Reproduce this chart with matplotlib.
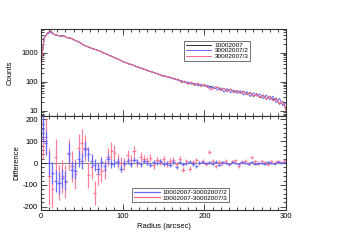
import numpy as np
import matplotlib
matplotlib.use("Agg")
import matplotlib.pyplot as plt
from matplotlib.ticker import MultipleLocator, LogLocator, NullFormatter, FuncFormatter
from matplotlib.lines import Line2D

# ---- Data ----
radius_prof = np.arange(0, 301, 4)
counts_10002007 = [370, 3200, 4700, 5600, 4300, 3900, 3750, 3850, 3250, 3150,
                   2850, 2450, 2250, 1820, 1680, 1480, 1370, 1230, 1160, 990,
                   910, 790, 730, 630, 580, 495, 455, 405, 385, 335,
                   315, 280, 265, 230, 220, 195, 185, 160, 158, 142,
                   138, 118, 122, 96, 104, 86, 95, 76, 86, 70,
                   80, 64, 70, 58, 66, 52, 60, 47, 56, 43,
                   50, 41, 47, 36, 43, 31, 39, 28, 35, 25,
                   32, 24, 27, 17, 21, 11]
counts_30002007_2 = [400, 3400, 4400, 5000, 4150, 4050, 3650, 3750, 3350, 3250,
                     2750, 2550, 2150, 1880, 1620, 1520, 1330, 1270, 1130, 1020,
                     890, 810, 710, 650, 560, 505, 445, 415, 375, 345,
                     305, 290, 255, 240, 210, 205, 175, 170, 150, 150,
                     128, 132, 108, 112, 92, 99, 82, 90, 72, 82,
                     70, 76, 60, 68, 52, 62, 44, 58, 42, 52,
                     40, 50, 35, 46, 31, 42, 32, 38, 26, 35,
                     24, 32, 19, 27, 15, 19]
counts_30002007_3 = [360, 3100, 4600, 5400, 4250, 3950, 3700, 3800, 3300, 3200,
                     2800, 2480, 2230, 1830, 1660, 1490, 1360, 1240, 1140, 1010,
                     900, 795, 725, 635, 575, 500, 450, 408, 378, 342,
                     312, 283, 262, 233, 217, 198, 182, 163, 156, 146,
                     140, 120, 118, 100, 104, 82, 98, 78, 90, 70,
                     78, 66, 52, 60, 66, 50, 60, 46, 55, 42,
                     50, 40, 46, 36, 42, 32, 37, 29, 34, 25,
                     31, 22, 26, 17, 21, 10]

radius_diff = np.arange(2, 300, 4)
diff_2 = [155, 92, 0, -45, -80, -90, -70, -80, 45, -30,
          -35, 20, 10, 65, 40, 10, -10, -25, 5, -15,
          20, -5, 0, 5, -25, 0, 10, -5, 15, 5,
          -5, 10, 0, -10, 5, 0, 8, -5, 0, -8,
          5, -20, 3, -5, 0, 6, -4, -15, 2, 5,
          0, 4, -3, 6, -8, 3, 0, -4, 5, 2,
          -3, 4, 0, -2, 5, -4, 2, 0, -3, 4,
          1, -2, 5, 0, 3]
err_2 = [60, 55, 55, 50, 50, 50, 45, 45, 45, 40,
         40, 38, 36, 35, 32, 30, 28, 26, 24, 22,
         20, 19, 18, 17, 16, 15, 14, 13, 12, 12,
         11, 11, 10, 10, 10, 9, 9, 9, 8, 8,
         8, 8, 7, 7, 7, 7, 7, 6, 6, 6,
         6, 6, 6, 6, 5, 5, 5, 5, 5, 5,
         5, 5, 5, 5, 5, 4, 4, 4, 4, 4,
         4, 4, 4, 4, 4]
diff_3 = [110, 120, -60, -120, 30, -90, -60, -85, 40, -15,
          -50, 70, 90, 70, -55, -20, -135, -50, -35, -30,
          27, 55, 45, 10, 0, -5, 35, 15, 55, 0,
          30, 20, 10, 25, -10, 15, 5, 20, -5, 10,
          15, -5, 20, -30, 10, -25, 5, 15, 0, 10,
          -5, 50, 10, -15, 5, 0, 10, -5, 8, 12,
          -15, 5, 10, 0, 26, 8, -3, 10, 5, -5,
          10, 2, 8, 5, 12]
err_3 = [90, 85, 130, 85, 80, 80, 75, 75, 70, 70,
         70, 65, 65, 60, 60, 55, 55, 50, 50, 45,
         42, 40, 36, 33, 30, 28, 26, 24, 22, 20,
         19, 18, 17, 16, 15, 14, 14, 13, 13, 12,
         12, 11, 11, 10, 10, 10, 10, 9, 9, 9,
         9, 9, 8, 8, 8, 8, 8, 7, 7, 7,
         7, 7, 7, 7, 7, 6, 6, 6, 6, 6,
         6, 6, 6, 6, 6]

labels_top = ["10002007", "30002007/2", "30002007/3"]
labels_bot = ["10002007-30002007/2", "10002007-30002007/3"]

BLUE = "#6a6aff"
PINK = "#ff6a8c"
FS = 5.5

plt.rcParams['font.family'] = ['Liberation Sans', 'DejaVu Sans']
plt.rcParams['axes.unicode_minus'] = False

fig = plt.figure(figsize=(3.41, 2.46), dpi=100)
ax1 = fig.add_axes([0.120, 0.528, 0.719, 0.354])
ax2 = fig.add_axes([0.120, 0.146, 0.719, 0.382])

# ---- Top panel ----
ax1.plot(radius_prof, counts_10002007, color="#333333", lw=0.7, label=labels_top[0])
ax1.plot(radius_prof, counts_30002007_2, color=BLUE, lw=0.7, label=labels_top[1])
ax1.plot(radius_prof, counts_30002007_3, color=PINK, lw=0.7, label=labels_top[2])
ax1.set_yscale("log")
ax1.set_xlim(0, 300)
ax1.set_ylim(6.6, 6500)
ax1.set_ylabel("Counts", fontsize=FS, labelpad=6)
ax1.yaxis.set_major_locator(LogLocator(base=10, numticks=10))
ax1.yaxis.set_major_formatter(FuncFormatter(lambda v, p: f"{v:g}"))
ax1.yaxis.set_minor_locator(LogLocator(base=10, subs=np.arange(2, 10), numticks=10))
ax1.yaxis.set_minor_formatter(NullFormatter())
ax1.xaxis.set_major_locator(MultipleLocator(100))
ax1.xaxis.set_minor_locator(MultipleLocator(10))
ax1.tick_params(labelbottom=False)
leg1 = ax1.legend(loc="upper right", bbox_to_anchor=(0.865, 0.9), fontsize=4.6,
                  frameon=True, fancybox=False, edgecolor="#333333",
                  handlelength=4, handletextpad=0.5, borderpad=0.25,
                  labelspacing=0.0)
leg1.get_frame().set_linewidth(0.6)

# ---- Bottom panel ----
ax2.axhline(0, color="#888888", lw=0.8, zorder=1)
ax2.errorbar(radius_diff, diff_2, yerr=err_2, xerr=2, fmt="none",
             ecolor=BLUE, elinewidth=0.9, capsize=0, zorder=3)
ax2.errorbar(radius_diff, diff_3, yerr=err_3, xerr=2, fmt="none",
             ecolor=PINK, elinewidth=0.9, capsize=0, alpha=0.85, zorder=2)
ax2.set_xlim(0, 300)
ax2.set_ylim(-215, 215)
ax2.set_ylabel("Difference", fontsize=FS, labelpad=2)
ax2.set_xlabel("Radius (arcsec)", fontsize=FS, labelpad=2)
ax2.xaxis.set_major_locator(MultipleLocator(100))
ax2.xaxis.set_minor_locator(MultipleLocator(10))
ax2.yaxis.set_major_locator(MultipleLocator(100))
ax2.yaxis.set_minor_locator(MultipleLocator(20))
handles = [Line2D([], [], color=BLUE, lw=0.9), Line2D([], [], color=PINK, lw=0.9)]
leg2 = ax2.legend(handles, labels_bot, loc="lower left", bbox_to_anchor=(0.36, 0.05),
                  fontsize=4.6, frameon=True, fancybox=False, edgecolor="#333333",
                  handlelength=4, handletextpad=0.5, borderpad=0.25,
                  labelspacing=0.0)
leg2.get_frame().set_linewidth(0.6)

for ax in (ax1, ax2):
    ax.tick_params(which="both", direction="in", top=True, right=True,
                   labelsize=FS, width=0.5, pad=2)
    ax.tick_params(which="major", length=4)
    ax.tick_params(which="minor", length=2)
    for s in ax.spines.values():
        s.set_linewidth(0.8)
        s.set_color("#333333")

fig.savefig("out.png", dpi=100)
